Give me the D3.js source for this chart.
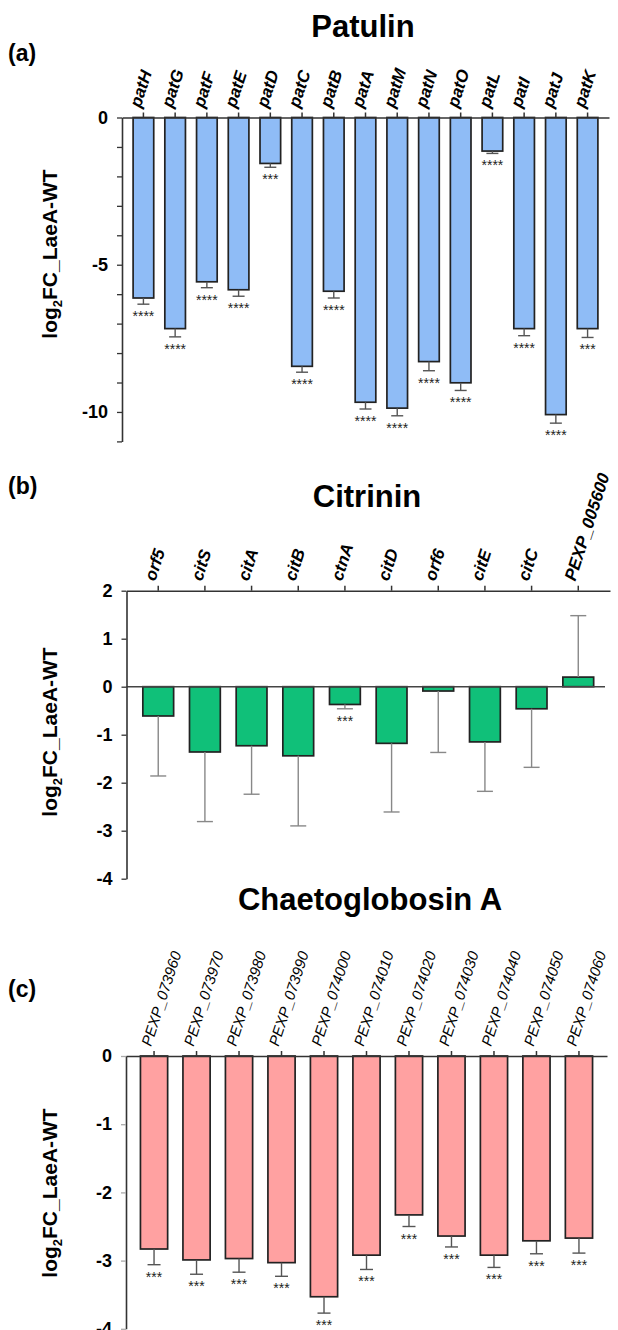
<!DOCTYPE html>
<html>
<head>
<meta charset="utf-8">
<script src="https://cdnjs.cloudflare.com/ajax/libs/d3/7.8.5/d3.min.js"></script>
<style>
body { margin: 0; background: #fff; }
svg text { font-family: "Liberation Sans", Arial, Helvetica, sans-serif; }
</style>
</head>
<body>
<div id="chart"></div>
<script>

// (a) Patulin cluster
var patGenes = ["patH", "patG", "patF", "patE", "patD", "patC", "patB", "patA", "patM", "patN", "patO", "patL", "patI", "patJ", "patK"];
var patValues = [-6.13, -7.17, -5.58, -5.85, -1.56, -8.45, -5.90, -9.67, -9.87, -8.29, -9.01, -1.14, -7.17, -10.09, -7.17];
var patErrors = [0.21, 0.28, 0.20, 0.22, 0.13, 0.20, 0.23, 0.23, 0.26, 0.31, 0.26, 0.08, 0.24, 0.29, 0.30];
var patStars = ["****", "****", "****", "****", "***", "****", "****", "****", "****", "****", "****", "****", "****", "****", "***"];
var patTicks = [0, -1, -2, -3, -4, -5, -6, -7, -8, -9, -10, -11];
var patTickLabels = [0, -5, -10];

// (b) Citrinin cluster
var citGenes = ["orf5", "citS", "citA", "citB", "ctnA", "citD", "orf6", "citE", "citC", "PEXP_005600"];
var citValues = [-0.61, -1.36, -1.23, -1.44, -0.37, -1.18, -0.09, -1.15, -0.46, 0.20];
var citErrors = [1.25, 1.45, 1.01, 1.46, 0.09, 1.43, 1.28, 1.03, 1.22, 1.28];
var citStars = ["", "", "", "", "***", "", "", "", "", ""];
var citTicks = [2, 1, 0, -1, -2, -3, -4];

// (c) Chaetoglobosin A cluster
var chaGenes = ["PEXP_073960", "PEXP_073970", "PEXP_073980", "PEXP_073990", "PEXP_074000", "PEXP_074010",
    "PEXP_074020", "PEXP_074030", "PEXP_074040", "PEXP_074050", "PEXP_074060"];
var chaValues = [-2.83, -2.99, -2.97, -3.03, -3.53, -2.92, -2.33, -2.64, -2.92, -2.71, -2.67];
var chaErrors = [0.23, 0.21, 0.20, 0.20, 0.24, 0.21, 0.17, 0.16, 0.18, 0.19, 0.22];
var chaStars = ["***", "***", "***", "***", "***", "***", "***", "***", "***", "***", "***"];
var chaTicks = [0, -1, -2, -3, -4];


var svg = d3.select("#chart")
    .append("svg")
    .attr("width", 618)
    .attr("height", 1330);


BarPanel = function(_svg, _opts) {
    this.svg = _svg;
    this.opts = _opts;

    this.initVis();
};

BarPanel.prototype.initVis = function() {
    var vis = this;
    var o = vis.opts;

    vis.x = d3.scaleBand()
        .domain(o.genes)
        .range(o.xRange)
        .paddingInner(o.padIn)
        .paddingOuter(o.padOut);

    vis.y = d3.scaleLinear()
        .domain(o.domain)
        .range(o.yRange);

    vis.g = vis.svg.append("g");

    vis.updateVis();
};

BarPanel.prototype.updateVis = function() {
    var vis = this;
    var o = vis.opts;
    var bw = vis.x.bandwidth();
    var yTop = vis.y(o.topValue);

    // title + panel letter
    vis.g.append("text")
        .attr("x", o.titleX)
        .attr("y", o.titleY)
        .attr("text-anchor", "middle")
        .style("font-size", "31px")
        .style("font-weight", "bold")
        .text(o.title);

    vis.g.append("text")
        .attr("x", 8)
        .attr("y", o.letterY)
        .style("font-size", "23px")
        .style("font-weight", "bold")
        .text(o.letter);

    // bars
    vis.g.selectAll(".bar")
        .data(o.values)
        .enter().append("rect")
        .attr("class", "bar")
        .attr("x", function(d, i) { return vis.x(o.genes[i]); })
        .attr("y", function(d) { return vis.y(Math.max(0, d)); })
        .attr("width", bw)
        .attr("height", function(d) { return Math.abs(vis.y(d) - vis.y(0)); })
        .attr("fill", o.color)
        .attr("stroke", "#222")
        .attr("stroke-width", 1.7);

    // one-sided error bars
    var errEnd = function(d, i) {
        return d < 0 ? vis.y(d - o.errors[i]) : vis.y(d + o.errors[i]);
    };

    vis.g.selectAll(".err")
        .data(o.values)
        .enter().append("line")
        .attr("class", "err")
        .attr("x1", function(d, i) { return vis.x(o.genes[i]) + bw / 2; })
        .attr("x2", function(d, i) { return vis.x(o.genes[i]) + bw / 2; })
        .attr("y1", function(d) { return vis.y(d); })
        .attr("y2", errEnd)
        .attr("stroke", o.errColor)
        .attr("stroke-width", 1.4);

    vis.g.selectAll(".cap")
        .data(o.values)
        .enter().append("line")
        .attr("class", "cap")
        .attr("x1", function(d, i) { return vis.x(o.genes[i]) + bw / 2 - o.capW / 2; })
        .attr("x2", function(d, i) { return vis.x(o.genes[i]) + bw / 2 + o.capW / 2; })
        .attr("y1", errEnd)
        .attr("y2", errEnd)
        .attr("stroke", o.errColor)
        .attr("stroke-width", 1.4);

    vis.g.selectAll(".star")
        .data(o.values)
        .enter().append("text")
        .attr("class", "star")
        .attr("x", function(d, i) { return vis.x(o.genes[i]) + bw / 2; })
        .attr("y", function(d, i) { return errEnd(d, i) + 17; })
        .attr("text-anchor", "middle")
        .style("font-size", "14px")
        .style("fill", "#222")
        .text(function(d, i) { return o.stars[i]; });

    // zero line when the top axis is not at zero
    if (o.topValue !== 0) {
        vis.g.append("line")
            .attr("x1", o.xRange[0])
            .attr("x2", o.xRange[1] - 5)
            .attr("y1", vis.y(0))
            .attr("y2", vis.y(0))
            .attr("stroke", "#444")
            .attr("stroke-width", 1.4);
    }

    // top category axis
    var xAxis = vis.g.append("g")
        .attr("class", "axis")
        .attr("transform", "translate(0," + yTop + ")")
        .call(d3.axisTop(vis.x).tickSize(5).tickSizeOuter(0).tickFormat(""));
    xAxis.selectAll("path, line").attr("stroke", "#333").attr("stroke-width", 1.5);

    vis.g.selectAll(".gene")
        .data(o.genes)
        .enter().append("text")
        .attr("class", "gene")
        .attr("transform", function(d) {
            return "translate(" + (vis.x(d) + bw / 2 - 3) + "," + (yTop - 9) + ") rotate(-72)";
        })
        .style("font-size", o.labelSize)
        .style("font-style", "italic")
        .style("font-weight", o.labelWeight)
        .text(function(d) { return d; });

    // left value axis
    var yAxis = vis.g.append("g")
        .attr("class", "axis")
        .attr("transform", "translate(" + o.xRange[0] + ",0)")
        .call(d3.axisLeft(vis.y)
            .tickValues(o.ticks)
            .tickSize(5)
            .tickSizeOuter(0)
            .tickPadding(9)
            .tickFormat(function(d) { return o.tickLabels.indexOf(d) >= 0 ? String(d) : ""; }));
    yAxis.select(".domain").attr("stroke", "#333").attr("stroke-width", 1.6);
    yAxis.selectAll(".tick line").attr("stroke", o.yTickColor).attr("stroke-width", 1.3);
    yAxis.selectAll(".tick text")
        .style("font-size", "18px")
        .style("font-weight", "bold")
        .attr("fill", "#000");

    var lab = vis.g.append("text")
        .attr("transform", "translate(57," + o.ylabelY + ") rotate(-90)")
        .attr("text-anchor", "middle")
        .style("font-size", "21px")
        .style("font-weight", "bold");
    lab.append("tspan").text("log");
    lab.append("tspan").attr("dy", 5).style("font-size", "13px").text("2");
    lab.append("tspan").attr("dy", -5).text("FC_LaeA-WT");
};


var panelA = new BarPanel(svg, {
    genes: patGenes, values: patValues, errors: patErrors, stars: patStars,
    ticks: patTicks, tickLabels: patTickLabels,
    domain: [-11, 0], yRange: [441.4, 117.5], topValue: 0,
    xRange: [122, 609], padIn: 0.35, padOut: 0.35,
    color: "#8fbcf6", errColor: "#555", capW: 12, yTickColor: "#333",
    labelSize: "17px", labelWeight: "bold",
    title: "Patulin", titleX: 363, titleY: 37, letter: "(a)", letterY: 61, ylabelY: 254
});

var panelB = new BarPanel(svg, {
    genes: citGenes, values: citValues, errors: citErrors, stars: citStars,
    ticks: citTicks, tickLabels: citTicks,
    domain: [-4, 2], yRange: [878.7, 590.7], topValue: 2,
    xRange: [126.5, 610], padIn: 0.34, padOut: 0.35,
    color: "#10c079", errColor: "#888", capW: 16, yTickColor: "#333",
    labelSize: "17px", labelWeight: "bold",
    title: "Citrinin", titleX: 367, titleY: 507, letter: "(b)", letterY: 494, ylabelY: 732
});

var panelC = new BarPanel(svg, {
    genes: chaGenes, values: chaValues, errors: chaErrors, stars: chaStars,
    ticks: chaTicks, tickLabels: chaTicks,
    domain: [-4, 0], yRange: [1328.8, 1056], topValue: 0,
    xRange: [126, 607], padIn: 0.36, padOut: 0.34,
    color: "#ffa1a1", errColor: "#555", capW: 13, yTickColor: "#aaa",
    labelSize: "15px", labelWeight: "normal",
    title: "Chaetoglobosin A", titleX: 370, titleY: 910, letter: "(c)", letterY: 997, ylabelY: 1193
});

</script>
</body>
</html>
